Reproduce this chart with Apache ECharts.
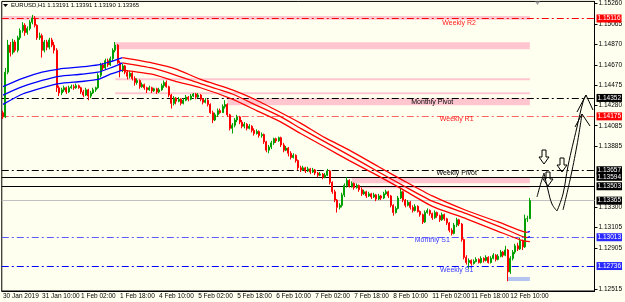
<!DOCTYPE html>
<html>
<head>
<meta charset="utf-8">
<script src="https://cdn.jsdelivr.net/npm/echarts@6/dist/echarts.min.js"></script>
<style>
html, body { margin: 0; padding: 0; background: #fffff0; }
#main { width: 625px; height: 302px; }
</style>
</head>
<body>
<div id="main"></div>
<script>
// EURUSD H1 bars, first bar 30 Jan 2019 18:00; [open, close, low, high]
var ohlc = [
[1.1421,1.1417,1.1415,1.1423],[1.1417,1.1460,1.1416,1.1464],[1.1460,1.1486,1.1458,1.1491],[1.1486,1.1479,1.1475,1.1489],
[1.1479,1.1489,1.1477,1.1492],[1.1489,1.1481,1.1479,1.1491],[1.1481,1.1493,1.1479,1.1495],[1.1493,1.1500,1.1491,1.1502],
[1.1500,1.1505,1.1498,1.1508],[1.1505,1.1498,1.1495,1.1507],[1.1498,1.1502,1.1496,1.1504],[1.1502,1.1508,1.1500,1.1510],
[1.1508,1.1512,1.1506,1.1515],[1.1512,1.1505,1.1503,1.1514],[1.1505,1.1493,1.1491,1.1506],[1.1493,1.1495,1.1491,1.1498],
[1.1495,1.1481,1.1474,1.1497],[1.1481,1.1489,1.1479,1.1491],[1.1489,1.1484,1.1481,1.1491],[1.1484,1.1491,1.1482,1.1493],
[1.1491,1.1486,1.1484,1.1493],[1.1486,1.1481,1.1478,1.1489],[1.1481,1.1445,1.1441,1.1483],[1.1445,1.1440,1.1437,1.1447],
[1.1440,1.1443,1.1438,1.1445],[1.1443,1.1445,1.1441,1.1447],[1.1445,1.1441,1.1439,1.1446],[1.1441,1.1445,1.1440,1.1447],
[1.1445,1.1446,1.1444,1.1448],[1.1446,1.1445,1.1443,1.1448],[1.1445,1.1447,1.1444,1.1449],[1.1447,1.1445,1.1444,1.1448],
[1.1445,1.1441,1.1439,1.1446],[1.1441,1.1438,1.1436,1.1443],[1.1438,1.1443,1.1437,1.1445],[1.1443,1.1437,1.1433,1.1444],
[1.1437,1.1440,1.1435,1.1442],[1.1440,1.1443,1.1439,1.1445],[1.1443,1.1445,1.1441,1.1446],[1.1445,1.1457,1.1444,1.1459],
[1.1457,1.1467,1.1455,1.1469],[1.1467,1.1464,1.1462,1.1469],[1.1464,1.1471,1.1462,1.1473],[1.1471,1.1467,1.1465,1.1473],
[1.1467,1.1473,1.1466,1.1475],[1.1473,1.1481,1.1471,1.1483],[1.1481,1.1486,1.1479,1.1489],[1.1486,1.1469,1.1468,1.1487],
[1.1469,1.1462,1.1455,1.1471],[1.1462,1.1466,1.1460,1.1468],[1.1466,1.1460,1.1458,1.1467],[1.1460,1.1456,1.1453,1.1462],
[1.1456,1.1459,1.1454,1.1461],[1.1459,1.1454,1.1452,1.1460],[1.1454,1.1450,1.1447,1.1456],[1.1450,1.1452,1.1448,1.1454],
[1.1452,1.1446,1.1444,1.1453],[1.1446,1.1448,1.1445,1.1450],[1.1448,1.1445,1.1443,1.1449],[1.1445,1.1443,1.1440,1.1446],
[1.1443,1.1445,1.1442,1.1447],[1.1445,1.1442,1.1440,1.1446],[1.1442,1.1444,1.1441,1.1445],[1.1444,1.1441,1.1439,1.1445],
[1.1441,1.1443,1.1440,1.1445],[1.1443,1.1447,1.1442,1.1449],[1.1447,1.1450,1.1445,1.1452],[1.1450,1.1446,1.1445,1.1452],
[1.1446,1.1438,1.1436,1.1447],[1.1438,1.1430,1.1425,1.1439],[1.1430,1.1435,1.1428,1.1437],[1.1435,1.1432,1.1429,1.1436],
[1.1432,1.1434,1.1431,1.1436],[1.1434,1.1430,1.1428,1.1435],[1.1430,1.1433,1.1429,1.1435],[1.1433,1.1436,1.1432,1.1438],
[1.1436,1.1434,1.1432,1.1437],[1.1434,1.1437,1.1433,1.1439],[1.1437,1.1439,1.1436,1.1440],[1.1439,1.1436,1.1434,1.1440],
[1.1436,1.1438,1.1435,1.1440],[1.1438,1.1434,1.1432,1.1439],[1.1434,1.1431,1.1429,1.1435],[1.1431,1.1433,1.1430,1.1435],
[1.1433,1.1429,1.1427,1.1434],[1.1429,1.1421,1.1420,1.1430],[1.1421,1.1414,1.1411,1.1423],[1.1414,1.1419,1.1413,1.1421],
[1.1419,1.1423,1.1417,1.1425],[1.1423,1.1421,1.1420,1.1425],[1.1421,1.1427,1.1421,1.1429],[1.1427,1.1429,1.1425,1.1433],
[1.1429,1.1419,1.1417,1.1430],[1.1419,1.1406,1.1404,1.1420],[1.1406,1.1409,1.1401,1.1411],[1.1409,1.1414,1.1407,1.1416],
[1.1414,1.1417,1.1412,1.1419],[1.1417,1.1412,1.1410,1.1418],[1.1412,1.1408,1.1406,1.1414],[1.1408,1.1410,1.1406,1.1412],
[1.1410,1.1406,1.1404,1.1411],[1.1406,1.1408,1.1405,1.1410],[1.1408,1.1404,1.1402,1.1409],[1.1404,1.1401,1.1399,1.1406],
[1.1401,1.1403,1.1400,1.1405],[1.1403,1.1399,1.1397,1.1404],[1.1399,1.1400,1.1397,1.1402],[1.1400,1.1393,1.1391,1.1401],
[1.1393,1.1385,1.1383,1.1394],[1.1385,1.1388,1.1382,1.1390],[1.1388,1.1392,1.1386,1.1394],[1.1392,1.1396,1.1390,1.1397],
[1.1396,1.1394,1.1392,1.1397],[1.1394,1.1397,1.1393,1.1398],[1.1397,1.1390,1.1388,1.1398],[1.1390,1.1385,1.1383,1.1392],
[1.1385,1.1387,1.1384,1.1389],[1.1387,1.1382,1.1379,1.1388],[1.1382,1.1378,1.1376,1.1384],[1.1378,1.1380,1.1377,1.1382],
[1.1380,1.1375,1.1373,1.1381],[1.1375,1.1368,1.1366,1.1376],[1.1368,1.1366,1.1364,1.1370],[1.1366,1.1368,1.1365,1.1370],
[1.1368,1.1365,1.1363,1.1369],[1.1365,1.1367,1.1364,1.1369],[1.1367,1.1364,1.1362,1.1368],[1.1364,1.1366,1.1363,1.1368],
[1.1366,1.1363,1.1361,1.1367],[1.1363,1.1361,1.1359,1.1364],[1.1361,1.1362,1.1360,1.1364],[1.1362,1.1359,1.1357,1.1363],
[1.1359,1.1361,1.1358,1.1363],[1.1361,1.1365,1.1360,1.1367],[1.1365,1.1354,1.1352,1.1366],[1.1354,1.1345,1.1343,1.1355],
[1.1345,1.1337,1.1335,1.1347],[1.1337,1.1330,1.1325,1.1338],[1.1330,1.1332,1.1328,1.1334],[1.1332,1.1342,1.1330,1.1344],
[1.1342,1.1351,1.1340,1.1353],[1.1351,1.1356,1.1349,1.1359],[1.1356,1.1350,1.1349,1.1357],[1.1350,1.1353,1.1349,1.1355],
[1.1353,1.1349,1.1347,1.1354],[1.1349,1.1351,1.1348,1.1353],[1.1351,1.1347,1.1345,1.1352],[1.1347,1.1343,1.1341,1.1349],
[1.1343,1.1345,1.1342,1.1347],[1.1345,1.1341,1.1339,1.1346],[1.1341,1.1343,1.1340,1.1345],[1.1343,1.1340,1.1338,1.1344],
[1.1340,1.1342,1.1339,1.1344],[1.1342,1.1338,1.1336,1.1343],[1.1338,1.1341,1.1337,1.1343],[1.1341,1.1339,1.1337,1.1342],
[1.1339,1.1343,1.1338,1.1345],[1.1343,1.1345,1.1342,1.1347],[1.1345,1.1341,1.1339,1.1346],[1.1341,1.1332,1.1330,1.1342],
[1.1332,1.1325,1.1322,1.1333],[1.1325,1.1329,1.1324,1.1331],[1.1329,1.1339,1.1328,1.1341],[1.1339,1.1345,1.1338,1.1349],
[1.1345,1.1337,1.1335,1.1346],[1.1337,1.1332,1.1330,1.1338],[1.1332,1.1335,1.1331,1.1337],[1.1335,1.1330,1.1328,1.1336],
[1.1330,1.1327,1.1325,1.1332],[1.1327,1.1331,1.1326,1.1333],[1.1331,1.1326,1.1325,1.1332],[1.1326,1.1323,1.1321,1.1327],
[1.1323,1.1316,1.1314,1.1324],[1.1316,1.1325,1.1315,1.1327],[1.1325,1.1327,1.1324,1.1329],[1.1327,1.1324,1.1322,1.1328],
[1.1324,1.1320,1.1318,1.1325],[1.1320,1.1325,1.1319,1.1327],[1.1325,1.1322,1.1320,1.1326],[1.1322,1.1318,1.1316,1.1323],
[1.1318,1.1323,1.1317,1.1325],[1.1323,1.1319,1.1317,1.1324],[1.1319,1.1315,1.1313,1.1320],[1.1315,1.1308,1.1306,1.1316],
[1.1308,1.1305,1.1303,1.1310],[1.1305,1.1313,1.1304,1.1315],[1.1313,1.1318,1.1311,1.1320],[1.1318,1.1314,1.1312,1.1319],
[1.1314,1.1299,1.1297,1.1315],[1.1299,1.1282,1.1280,1.1300],[1.1282,1.1277,1.1275,1.1284],[1.1277,1.1279,1.1271,1.1281],
[1.1279,1.1276,1.1274,1.1280],[1.1276,1.1278,1.1275,1.1280],[1.1278,1.1280,1.1277,1.1282],[1.1280,1.1277,1.1276,1.1281],
[1.1277,1.1281,1.1276,1.1283],[1.1281,1.1279,1.1277,1.1282],[1.1279,1.1282,1.1278,1.1284],[1.1282,1.1277,1.1276,1.1283],
[1.1277,1.1281,1.1276,1.1283],[1.1281,1.1284,1.1280,1.1286],[1.1284,1.1280,1.1278,1.1285],[1.1280,1.1283,1.1279,1.1285],
[1.1283,1.1287,1.1282,1.1289],[1.1287,1.1284,1.1282,1.1288],[1.1284,1.1289,1.1283,1.1293],[1.1289,1.1268,1.1259,1.1290],
[1.1268,1.1281,1.1266,1.1283],[1.1281,1.1287,1.1279,1.1289],[1.1287,1.1293,1.1285,1.1295],[1.1293,1.1290,1.1288,1.1296],
[1.1290,1.1298,1.1289,1.1301],[1.1298,1.1292,1.1289,1.1299],[1.1292,1.1319,1.1291,1.1323],[1.1319,1.13191,1.1316,1.1322],
[1.13191,1.13365,1.13190,1.13391]
];

// moving-average band: [bar index, price]
var blueUpper = [[0,1.1446],[8,1.1454],[16,1.1460],[23,1.1463],[32,1.1465],[39,1.1467],[44,1.1470],[49,1.1474]];
var blueMid   = [[0,1.1438],[8,1.1446],[16,1.1452],[23,1.1456],[32,1.1458],[39,1.1460],[44,1.1464],[49,1.1469]];
var blueLower = [[0,1.1429],[8,1.1439],[16,1.1445],[23,1.1449],[32,1.1451],[39,1.1453],[44,1.1458],[49,1.1462]];
var redUpper = [[49,1.1474],[61,1.1469],[71,1.1463],[81,1.1453],[94,1.1443],[104,1.1433],[114,1.1421],[122,1.1411],[132,1.1397],
  [142,1.1385],[154,1.1369],[164,1.1356],[176,1.1341],[190,1.1327],[203,1.1316],[213,1.1307],[215,1.1306]];
var redMid = [[49,1.1469],[61,1.1464],[71,1.1457],[81,1.1449],[94,1.1439],[104,1.1428],[114,1.1417],[122,1.1406],[132,1.1393],
  [142,1.1380],[154,1.1364],[164,1.1351],[176,1.1336],[190,1.1324],[203,1.1312],[213,1.1302],[215,1.1301]];
var redLower = [[49,1.1462],[61,1.1458],[71,1.1451],[81,1.1445],[94,1.1434],[104,1.1423],[114,1.1412],[122,1.1401],[132,1.1388],
  [142,1.1375],[154,1.1360],[164,1.1347],[176,1.1331],[190,1.1319],[203,1.1307],[213,1.1298],[216,1.1297]];
var blueTailUpper = [[215,1.1306],[216,1.1307]];
var blueTailMid = [[215,1.1301],[216,1.1302]];

var timeLabels = ['30 Jan 2019', '31 Jan 10:00', '1 Feb 02:00', '1 Feb 18:00', '4 Feb 10:00', '5 Feb 02:00', '5 Feb 18:00',
  '6 Feb 10:00', '7 Feb 02:00', '7 Feb 18:00', '8 Feb 10:00', '11 Feb 02:00', '11 Feb 18:00', '12 Feb 10:00'];
var priceTicks = [1.15260, 1.15065, 1.14870, 1.14670, 1.14475, 1.14280, 1.14085, 1.13885, 1.13300, 1.13105, 1.12905, 1.12515];

// horizontal levels
var levelValues = [1.15116, 1.14352, 1.14175, 1.13657, 1.13594, 1.13503, 1.13365, 1.13013, 1.12736];
var levelNames = ['Weekly R2', 'Monthly Pivot', 'Weekly R1', 'Weekly Pivot', 'Monthly S1', 'Weekly S1'];
var notePlaces = [[187, 1.15074], [176, 1.14316], [186, 1.14148], [186, 1.13634], [176, 1.12986], [186, 1.12693]];

// shaded zones: [top price, bottom price, first bar, last bar]
var pinkZones = [
  [1.15141, 1.15103, 0, 216],
  [1.14887, 1.14820, 46, 216],
  [1.14541, 1.14522, 46, 216],
  [1.14407, 1.14388, 46, 216],
  [1.14349, 1.14282, 92, 216],
  [1.13591, 1.13533, 143, 216],
  [1.13504, 1.13485, 143, 216]
];
var blueZones = [[1.12631, 1.12592, 207, 216]];

var FONT = 'Liberation Sans';
var FS = 6.5;

// hourly categories, weekends skipped
var hours = [];
var t = Date.UTC(2019, 0, 30, 18);
while (hours.length < 243) {
    var d = new Date(t);
    if (d.getUTCDay() !== 0 && d.getUTCDay() !== 6) hours.push(d.toISOString().slice(0, 13));
    t += 3600000;
}

var lineColors = ['#ff0000', '#000000', '#ff6464', '#000000', '#000000', '#000000', '#c0c0c0', '#5a5aff', '#0000ff'];
var boxColors = ['#ff0000', '#000000', '#ff0000', '#000000', '#000000', '#000000', '#000000', '#2a2aff', '#2a2aff'];
var solid = [false, false, false, false, true, true, true, false, false];
var noteColors = ['#ff2020', '#000000', '#ff2020', '#000000', '#3a3aff', '#3a3aff'];

var markLines = levelValues.map(function (v, i) {
    return {
        yAxis: v,
        lineStyle: {color: lineColors[i], width: 1, type: solid[i] ? 'solid' : [7, 3, 2, 3]},
        label: {backgroundColor: boxColors[i]}
    };
});

function zoneItems(list, color) {
    return list.map(function (z) {
        return [{yAxis: z[0], xAxis: z[2], itemStyle: {color: color}}, {yAxis: z[1], xAxis: z[3]}];
    });
}

var notes = levelNames.map(function (n, i) {
    return {
        name: n, coord: notePlaces[i],
        label: {color: noteColors[i]}
    };
});

function band(data, color, z) {
    return {
        type: 'line', data: data, symbol: 'none', smooth: 0.2, z: z || 4, silent: true,
        lineStyle: {color: color, width: 1.3}
    };
}

function downArrow(cx, ty) {
    return {
        type: 'polygon', z: 100,
        shape: {points: [[cx - 2, ty], [cx + 2, ty], [cx + 2, ty + 7], [cx + 5, ty + 7], [cx, ty + 14], [cx - 5, ty + 7], [cx - 2, ty + 7]]},
        style: {fill: 'none', stroke: '#000', lineWidth: 1}
    };
}

var pen = {fill: 'none', stroke: '#000', lineWidth: 1};

var chart = echarts.init(document.getElementById('main'));
var option = {
    animation: false,
    backgroundColor: '#fffff0',
    grid: {left: 0, right: 28, top: 1, bottom: 11, show: true, borderColor: '#000', borderWidth: 1},
    xAxis: {
        type: 'category', data: hours, boundaryGap: true,
        axisLine: {lineStyle: {color: '#000', width: 1}},
        axisTick: {
            alignWithLabel: true, length: 3, lineStyle: {color: '#000'},
            interval: function (i) { return i % 16 === 0 && i <= 208; }
        },
        axisLabel: {
            interval: function (i) { return i % 16 === 0 && i <= 208; },
            formatter: function (v, i) { return timeLabels[i / 16] || ''; },
            align: 'left', margin: 2, fontSize: FS, fontFamily: FONT, color: '#000'
        },
        splitLine: {show: false}
    },
    yAxis: {
        type: 'value', position: 'right', min: 1.12496, max: 1.15280,
        axisLine: {show: true, lineStyle: {color: '#000', width: 1}},
        axisTick: {show: true, length: 3, customValues: priceTicks, lineStyle: {color: '#000'}},
        axisLabel: {
            customValues: priceTicks, margin: 4, fontSize: FS, fontFamily: FONT, color: '#000',
            formatter: function (v) { return v.toFixed(5); }
        },
        splitLine: {show: false}
    },
    series: [
        {
            type: 'line', data: [], z: 1, silent: true,
            markArea: {silent: true, data: zoneItems(pinkZones, '#ffc6d0').concat(zoneItems(blueZones, '#b4c4f0'))}
        },
        {
            type: 'candlestick', data: ohlc, barWidth: 1.5, z: 3, silent: true,
            itemStyle: {color: '#00a000', color0: '#ff0000', borderColor: '#00a000', borderColor0: '#ff0000', borderWidth: 1},
            markLine: {
                silent: true, symbol: ['none', 'none'], z: 2, precision: 5,
                label: {
                    position: 'end', distance: 2, color: '#fff', padding: [1, 1, 0, 1],
                    fontSize: FS, fontFamily: FONT,
                    formatter: function (p) { return Number(p.value).toFixed(5); }
                },
                data: markLines
            },
            markPoint: {
                silent: true, symbol: 'rect', symbolSize: 1,
                itemStyle: {color: 'rgba(0,0,0,0)'},
                label: {show: true, position: 'inside', fontSize: 7, fontFamily: FONT, formatter: '{b}'},
                data: notes
            }
        },
        band(blueUpper, '#0000ff'), band(blueMid, '#0000ff'), band(blueLower, '#0000ff'),
        band(redUpper, '#ff0000'), band(redMid, '#ff0000'), band(redLower, '#ff0000'),
        band(blueTailUpper, '#0000ff', 5), band(blueTailMid, '#0000ff', 5)
    ],
    graphic: [
        {type: 'polygon', shape: {points: [[3, 4], [8, 4], [5.5, 7]]}, style: {fill: '#000'}},
        {type: 'text', x: 11, y: 2.5, style: {text: 'EURUSD,H1 1.13191 1.13391 1.13190 1.13365', font: '6px "' + FONT + '"', fill: '#000'}},
        {type: 'polygon', shape: {points: [[535, 1.5], [540, 1.5], [537.5, 5]]}, style: {fill: '#a0a0a0'}},
        downArrow(544, 150), downArrow(562, 158), downArrow(548, 172),
        {type: 'polyline', z: 100, shape: {points: [[537, 197], [540, 186], [544, 173]], smooth: 0.3}, style: pen},
        {type: 'polyline', z: 100, shape: {points: [[544, 173], [548, 190], [552, 204], [557, 211]], smooth: 0.4}, style: pen},
        {type: 'polyline', z: 100, shape: {points: [[557, 211], [563, 194], [568, 166], [577, 127], [583, 102], [586, 95]], smooth: 0.4}, style: pen},
        {type: 'polyline', z: 100, shape: {points: [[563, 210], [570, 180], [577, 145], [582, 114]], smooth: 0.4}, style: pen},
        {type: 'polyline', z: 100, shape: {points: [[577, 112], [586, 95], [593, 110]]}, style: pen},
        {type: 'polyline', z: 100, shape: {points: [[575, 127], [582, 114], [590, 126]]}, style: pen}
    ]
};
chart.setOption(option);
</script>
</body>
</html>
